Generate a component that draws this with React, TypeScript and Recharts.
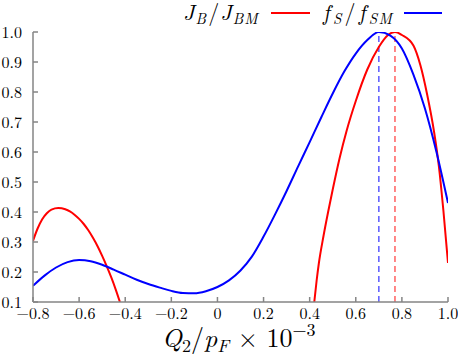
import React from 'react';
import { LineChart, Line, XAxis, YAxis, ReferenceLine, Customized } from 'recharts';

const xTicks = [-0.8, -0.6, -0.4, -0.2, 0, 0.2, 0.4, 0.6, 0.8, 1.0];
const yTicks = [0.1, 0.2, 0.3, 0.4, 0.5, 0.6, 0.7, 0.8, 0.9, 1.0];

// J_B / J_BM (red), left branch
const jLeftQ = [-0.8, -0.78, -0.76, -0.74, -0.72, -0.69, -0.66, -0.64, -0.62, -0.6, -0.58, -0.56, -0.54, -0.52, -0.5, -0.48, -0.46, -0.44, -0.423];
const jLeftV = [0.304, 0.345, 0.376, 0.396, 0.408, 0.413, 0.409, 0.402, 0.391, 0.377, 0.36, 0.339, 0.314, 0.286, 0.254, 0.219, 0.181, 0.139, 0.1];

// J_B / J_BM (red), right branch
const jRightQ = [0.42, 0.43, 0.44, 0.46, 0.48, 0.5, 0.53, 0.56, 0.6, 0.65, 0.7, 0.74, 0.77, 0.8, 0.85, 0.88, 0.91, 0.94, 0.96, 0.98, 1.0];
const jRightV = [0.1, 0.17, 0.23, 0.32, 0.4, 0.475, 0.58, 0.67, 0.77, 0.875, 0.95, 0.99, 1.0, 0.99, 0.955, 0.89, 0.79, 0.665, 0.555, 0.405, 0.23];

// f_S / f_SM (blue)
const fQ = [-0.8, -0.75, -0.7, -0.65, -0.6, -0.55, -0.5, -0.45, -0.4, -0.35, -0.3, -0.25, -0.2, -0.15, -0.1, -0.05, 0, 0.05, 0.1, 0.15, 0.2, 0.25, 0.3, 0.35, 0.4, 0.45, 0.5, 0.55, 0.6, 0.65, 0.7, 0.75, 0.8, 0.85, 0.9, 0.95, 1.0];
const fV = [0.154, 0.188, 0.215, 0.233, 0.24, 0.236, 0.224, 0.208, 0.191, 0.174, 0.16, 0.148, 0.137, 0.13, 0.129, 0.136, 0.15, 0.172, 0.205, 0.252, 0.318, 0.392, 0.47, 0.552, 0.633, 0.715, 0.795, 0.868, 0.928, 0.973, 1.0, 0.988, 0.945, 0.858, 0.745, 0.6, 0.43];

const jPeakQ = 0.77;
const fPeakQ = 0.7;

const jLeft = jLeftQ.map((q, i) => ({ q, v: jLeftV[i] }));
const jRight = jRightQ.map((q, i) => ({ q, v: jRightV[i] }));
const fData = fQ.map((q, i) => ({ q, v: fV[i] }));

const serif = 'Latin Modern Roman';
const axisColor = '#858585';

const fmtX = (v: number) => (v === 0 ? '0' : (v < 0 ? '\u2212' : '') + Math.abs(v).toFixed(1));
const fmtY = (v: number) => v.toFixed(1);

const Overlay = () => (
  <g fontFamily={serif} fill="#000">
    <text x={183} y={20} fontSize={22} letterSpacing={1}>
      <tspan fontStyle="italic">J</tspan>
      <tspan fontStyle="italic" fontSize={15} dy={4}>B</tspan>
      <tspan dy={-4} dx={1}>/</tspan>
      <tspan fontStyle="italic">J</tspan>
      <tspan fontStyle="italic" fontSize={15} dy={4}>BM</tspan>
    </text>
    <line x1={271} x2={310} y1={13} y2={13} stroke="#ff0000" strokeWidth={2} />
    <text x={323} y={20} fontSize={22} letterSpacing={1.2}>
      <tspan fontStyle="italic">f</tspan>
      <tspan fontStyle="italic" fontSize={15} dy={4} dx={2}>S</tspan>
      <tspan dy={-4} dx={2}>/</tspan>
      <tspan fontStyle="italic" dx={2}>f</tspan>
      <tspan fontStyle="italic" fontSize={15} dy={4} dx={2}>SM</tspan>
    </text>
    <line x1={404} x2={442} y1={13} y2={13} stroke="#0000ff" strokeWidth={2} />
    <text x={162} y={347} fontSize={26}>
      <tspan fontStyle="italic">Q</tspan>
      <tspan fontSize={18} dy={5}>2</tspan>
      <tspan dy={-5}>/</tspan>
      <tspan fontStyle="italic">p</tspan>
      <tspan fontStyle="italic" fontSize={18} dy={5}>F</tspan>
      <tspan dy={-5}>{' \u00d7 10'}</tspan>
      <tspan fontSize={18} dy={-11}>{'\u22123'}</tspan>
    </text>
  </g>
);

export default function App() {
  return (
    <div style={{ position: 'absolute', left: 0, top: 0, width: 458, height: 356, background: '#fff' }}>
      <LineChart width={458} height={356} margin={{ top: 32, right: 10, bottom: 0, left: 0 }}>
        <XAxis
          xAxisId="bottom"
          dataKey="q"
          type="number"
          domain={[-0.8, 1]}
          ticks={xTicks}
          allowDataOverflow
          orientation="bottom"
          height={54}
          tickSize={-5}
          tickMargin={11}
          tickFormatter={fmtX}
          stroke={axisColor}
          strokeWidth={1.5}
          tick={{ fill: '#000', fontSize: 16, fontFamily: serif }}
          interval={0}
        />
        <XAxis
          xAxisId="top"
          dataKey="q"
          type="number"
          domain={[-0.8, 1]}
          ticks={xTicks}
          allowDataOverflow
          orientation="top"
          height={0}
          tickSize={-5}
          tick={false}
          stroke={axisColor}
          strokeWidth={1.5}
          interval={0}
        />
        <YAxis
          yAxisId="left"
          type="number"
          domain={[0.1, 1]}
          ticks={yTicks}
          allowDataOverflow
          width={33}
          tickSize={-5}
          tickMargin={16}
          tickFormatter={fmtY}
          stroke={axisColor}
          strokeWidth={1.5}
          tick={{ fill: '#000', fontSize: 16, fontFamily: serif }}
          interval={0}
        />
        <YAxis
          yAxisId="right"
          orientation="right"
          type="number"
          domain={[0.1, 1]}
          ticks={yTicks}
          allowDataOverflow
          width={0}
          tickSize={-5}
          tick={false}
          stroke={axisColor}
          strokeWidth={1.5}
          interval={0}
        />
        <ReferenceLine xAxisId="bottom" yAxisId="left" x={fPeakQ} stroke="#5a5aff" strokeWidth={1.5} strokeDasharray="6 4" />
        <ReferenceLine xAxisId="bottom" yAxisId="left" x={jPeakQ} stroke="#ff6060" strokeWidth={1.5} strokeDasharray="6 4" />
        <Line xAxisId="bottom" yAxisId="left" data={jLeft} dataKey="v" type="monotone" stroke="#ff0000" strokeWidth={2} dot={false} isAnimationActive={false} />
        <Line xAxisId="bottom" yAxisId="left" data={jRight} dataKey="v" type="monotone" stroke="#ff0000" strokeWidth={2} dot={false} isAnimationActive={false} />
        <Line xAxisId="bottom" yAxisId="left" data={fData} dataKey="v" type="monotone" stroke="#0000ff" strokeWidth={2} dot={false} isAnimationActive={false} />
        <Customized component={Overlay} />
      </LineChart>
    </div>
  );
}
